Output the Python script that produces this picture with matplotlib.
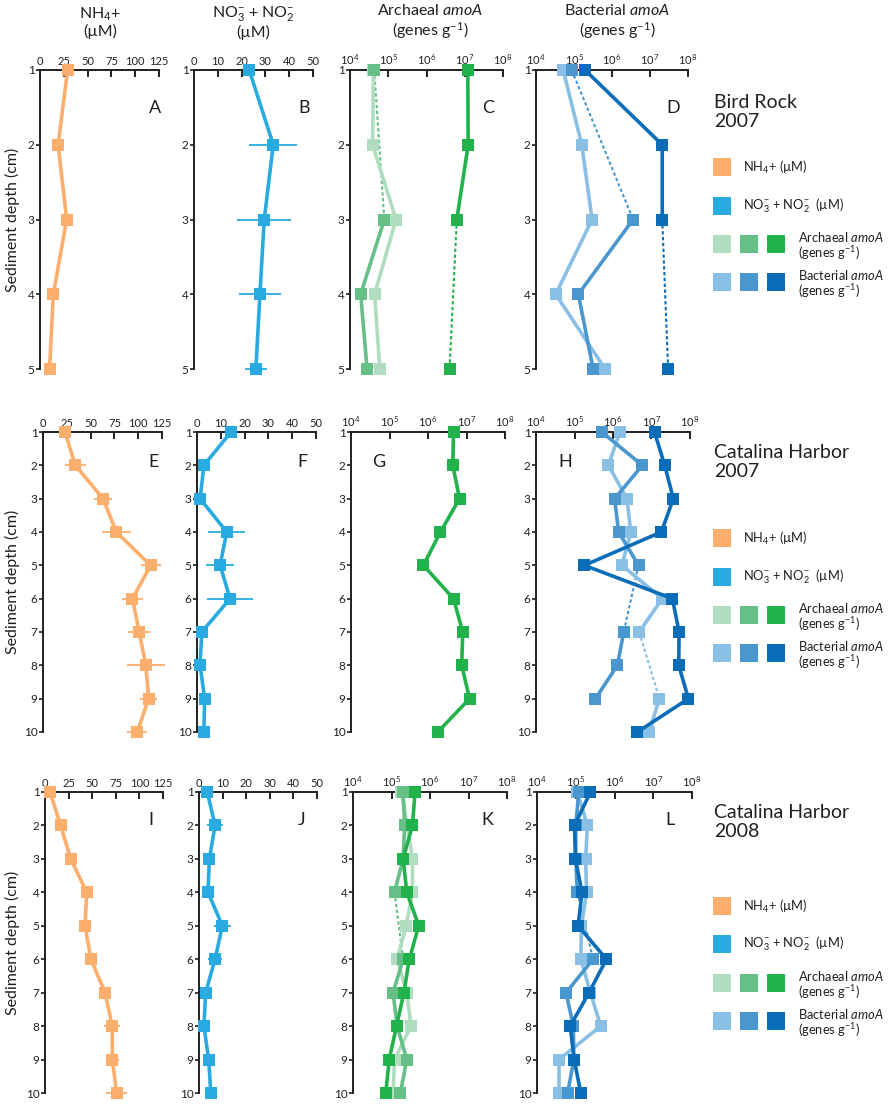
import numpy as np
import matplotlib
matplotlib.use('Agg')
import matplotlib.pyplot as plt
from matplotlib.patches import Rectangle
from matplotlib.ticker import NullLocator

plt.rcParams['font.family'] = ['Lato', 'DejaVu Sans']
plt.rcParams['mathtext.fontset'] = 'custom'
plt.rcParams['mathtext.rm'] = 'Lato'
plt.rcParams['mathtext.it'] = 'Lato:italic'
plt.rcParams['mathtext.bf'] = 'Lato:bold'
plt.rcParams['text.color'] = '#231F20'
plt.rcParams['xtick.color'] = '#231F20'
plt.rcParams['ytick.color'] = '#231F20'

nan = np.nan
depth5 = np.arange(1, 6)
depth10 = np.arange(1, 11)

# Bird Rock 2007
br_nh4 = [29, 19, 28, 14, 10]
br_nh4_err = [15, 0, 6, 0, 0]
br_nox = [23.2, 33.3, 29.5, 27.7, 26.0]
br_nox_err = [3, 10, 11.4, 8.7, 4.5]
br_arch_light = [4.1e4, 3.9e4, 1.6e5, 4.4e4, 6.0e4]
br_arch_mid = [4.3e4, nan, 7.9e4, 1.9e4, 2.8e4]
br_arch_dark = [1.2e7, 1.23e7, 6.2e6, nan, 4.0e6]
br_bact_light = [5.2e4, 1.6e5, 3.0e5, 3.3e4, 6.6e5]
br_bact_mid = [8.7e4, nan, 3.6e6, 1.3e5, 3.2e5]
br_bact_dark = [1.95e5, 2.1e7, 2.1e7, nan, 3.0e7]

# Catalina Harbor 2007
ch7_nh4 = [23, 34, 63, 77, 113, 94, 101, 108, 111, 99]
ch7_nh4_err = [3, 11, 9, 15, 10.5, 11, 11.7, 20, 9, 10.5]
ch7_nox = [14.3, 2.9, 1.3, 12.5, 9.7, 13.9, 2.0, 1.3, 3.2, 2.9]
ch7_nox_err = [10.4, 0, 0, 7.7, 5.8, 9.8, 0, 0, 0, 0]
ch7_arch_dark = [4.6e6, 4.4e6, 6.6e6, 2.1e6, 7.6e5, 4.6e6, 8.0e6, 7.5e6, 1.2e7, 1.8e6]
ch7_bact_light = [1.5e6, 7.6e5, 2.3e6, 2.9e6, 1.7e6, 1.9e7, 4.8e6, nan, 1.6e7, 8.7e6]
ch7_bact_mid = [5.1e5, 5.8e6, 1.1e6, 1.4e6, 4.6e6, nan, 1.9e6, 1.3e6, 3.5e5, nan]
ch7_bact_dark = [1.2e7, 2.2e7, 3.7e7, 1.8e7, 1.8e5, 3.5e7, 5.2e7, 5.1e7, 9.1e7, 4.3e6]

# Catalina Harbor 2008
ch8_nh4 = [5.3, 16.6, 27.2, 44.2, 42.4, 48.7, 63.6, 71.3, 71.3, 75.9]
ch8_nh4_err = [0, 0, 6, 0, 0, 0, 0, 8.3, 7, 11.3]
ch8_nox = [3.5, 6.8, 4.4, 3.8, 9.9, 6.8, 2.8, 2.1, 4.1, 5.0]
ch8_nox_err = [0, 3.4, 0, 0, 3.5, 3.0, 0, 0, 0, 2.5]
ch8_arch_light = [1.8e5, 2.6e5, 3.5e5, 3.5e5, 2.4e5, 1.4e5, 2.5e5, 3.2e5, 1.2e5, 1.1e5]
ch8_arch_mid = [2.0e5, 2.2e5, 2.0e5, 1.2e5, nan, 2.0e5, 1.1e5, 1.4e5, 2.5e5, 1.7e5]
ch8_arch_dark = [4.1e5, 3.5e5, 2.0e5, 2.5e5, 5.1e5, 2.9e5, 2.1e5, 1.35e5, 8.7e4, 7.1e4]
ch8_bact_light = [1.1e5, 2.0e5, 1.8e5, 1.9e5, 1.4e5, 1.35e5, 2.4e5, 4.4e5, 3.7e4, 3.7e4]
ch8_bact_mid = [1.2e5, 1.0e5, 1.0e5, 1.1e5, nan, 2.8e5, 5.6e4, 8.7e4, 8.9e4, 6.2e4]
ch8_bact_dark = [2.4e5, 9.3e4, 9.8e4, 1.45e5, 1.15e5, 6.2e5, 2.2e5, 7.2e4, 9.1e4, 1.35e5]

nh4_ticks = [0, 25, 50, 75, 100, 125]
nox_ticks = [0, 10, 20, 30, 40, 50]
gene_ticks = [1e4, 1e5, 1e6, 1e7, 1e8]

sites = ['Bird Rock\n2007', 'Catalina Harbor\n2007', 'Catalina Harbor\n2008']
letters = ['ABCD', 'EFGH', 'IJKL']

c_nh4 = '#FCAE6C'
c_nox = '#29ABE2'
c_arch = ['#B0DDC0', '#66BF86', '#22B24C']
c_bact = ['#89BFE5', '#4A96CF', '#0B6DB7']

W, H = 892, 1108
fig = plt.figure(figsize=(W / 100, H / 100), dpi=100)


def fx(px):
    return px / W


def fy(py):
    return 1 - py / H


def make_ax(left, top, width, bottom):
    return fig.add_axes([fx(left), fy(bottom), width / W, (bottom - top) / H])


def style(ax, depth, xticks, log=False):
    for s in ['right', 'bottom']:
        ax.spines[s].set_visible(False)
    for s in ['top', 'left']:
        ax.spines[s].set_linewidth(1.4)
        ax.spines[s].set_color('#231F20')
    if log:
        ax.set_xscale('log')
    ax.set_xlim(xticks[0], xticks[-1])
    ax.set_xticks(xticks)
    if log:
        ax.xaxis.set_minor_locator(NullLocator())
    ax.set_ylim(depth[-1], depth[0])
    ax.set_yticks(depth)
    ax.xaxis.tick_top()
    ax.tick_params(axis='x', direction='in', length=5, width=1.4, labelsize=8, pad=2)
    ax.tick_params(axis='y', direction='out', length=3, width=1.2, labelsize=8.5, pad=1)
    ax.patch.set_alpha(0)


def profile(ax, depth, vals, color, err=None):
    vals = np.asarray(vals, dtype=float)
    ax.plot(vals, depth, '-s', color=color, lw=2.6, ms=8, mew=0, clip_on=False, zorder=3)
    ok = np.flatnonzero(~np.isnan(vals))
    for i, j in zip(ok[:-1], ok[1:]):
        if j - i > 1:
            ax.plot([vals[i], vals[j]], [depth[i], depth[j]], color=color, lw=1.5,
                    ls=(0, (1.6, 1.2)), clip_on=False, zorder=2)
    if err is not None:
        eb = ax.errorbar(vals, depth, xerr=err, fmt='none', ecolor=color,
                         elinewidth=1.3, capsize=0, zorder=2)
        for c in eb[2]:
            c.set_clip_on(False)


def letter(ax, txt, x, y):
    ax.text(x, y, txt, transform=ax.transAxes, fontsize=13, ha='center', va='center')


# row layout: top px, bottom px, axes lefts, widths
rows = [
    dict(top=70, bottom=369, lefts=[40, 194, 350, 536], widths=[119, 119, 153, 152], depth=depth5),
    dict(top=432, bottom=732, lefts=[43, 197, 351, 536], widths=[119, 119, 154, 154], depth=depth10),
    dict(top=792, bottom=1093, lefts=[45, 199, 353, 537], widths=[118, 118, 154, 155], depth=depth10),
]
letter_pos = [
    [(0.966, 0.873), (0.924, 0.873), (0.90, 0.873), (0.90, 0.873)],
    [(0.925, 0.90), (0.89, 0.90), (0.18, 0.90), (0.19, 0.90)],
    [(0.90, 0.907), (0.87, 0.907), (0.87, 0.907), (0.86, 0.907)],
]

data = [
    (br_nh4, br_nh4_err, br_nox, br_nox_err,
     [br_arch_light, br_arch_mid, br_arch_dark], [br_bact_light, br_bact_mid, br_bact_dark]),
    (ch7_nh4, ch7_nh4_err, ch7_nox, ch7_nox_err,
     [None, None, ch7_arch_dark], [ch7_bact_light, ch7_bact_mid, ch7_bact_dark]),
    (ch8_nh4, ch8_nh4_err, ch8_nox, ch8_nox_err,
     [ch8_arch_light, ch8_arch_mid, ch8_arch_dark], [ch8_bact_light, ch8_bact_mid, ch8_bact_dark]),
]

for r, (row, d) in enumerate(zip(rows, data)):
    depth = row['depth']
    axs = [make_ax(l, row['top'], w, row['bottom']) for l, w in zip(row['lefts'], row['widths'])]
    nh4, nh4_err, nox, nox_err, arch, bact = d

    style(axs[0], depth, nh4_ticks)
    profile(axs[0], depth, nh4, c_nh4, nh4_err)

    style(axs[1], depth, nox_ticks)
    profile(axs[1], depth, nox, c_nox, nox_err)

    style(axs[2], depth, gene_ticks, log=True)
    for vals, col in zip(arch, c_arch):
        if vals is not None:
            profile(axs[2], depth, vals, col)

    style(axs[3], depth, gene_ticks, log=True)
    for vals, col in zip(bact, c_bact):
        profile(axs[3], depth, vals, col)

    for ax, t, (lx, ly) in zip(axs, letters[r], letter_pos[r]):
        letter(ax, t, lx, ly)

    fig.text(fx(12), fy((row['top'] + row['bottom']) / 2), 'Sediment depth (cm)',
             rotation=90, ha='center', va='center', fontsize=11.5)

# column headers
hdr = [(100, 'NH$_4$+\n(µM)'),
       (253, 'NO$_3^{-}$ + NO$_2^{-}$\n(µM)'),
       (430, 'Archaeal $\\mathit{amoA}$\n(genes g$^{-1}$)'),
       (617, 'Bacterial $\\mathit{amoA}$\n(genes g$^{-1}$)')]
for x, t in hdr:
    fig.text(fx(x), fy(22), t, ha='center', va='center', fontsize=11.5, linespacing=1.1)

# site labels and legends on the right
site_y = [112, 462, 822]
leg_y = [[167, 205.5, 244, 282], [538, 577, 615, 653], [906, 944, 983, 1021]]
sq = 18
lfs = 9.3
for s, sy, ly in zip(sites, site_y, leg_y):
    fig.text(fx(714), fy(sy), s, ha='left', va='center', fontsize=14, linespacing=1.12)
    fig.patches.append(Rectangle((fx(713), fy(ly[0] + sq / 2)), sq / W, sq / H,
                                 transform=fig.transFigure, color=c_nh4, lw=0))
    fig.text(fx(743), fy(ly[0]), 'NH$_4$+ (µM)', ha='left', va='center', fontsize=lfs)
    fig.patches.append(Rectangle((fx(713), fy(ly[1] + sq / 2)), sq / W, sq / H,
                                 transform=fig.transFigure, color=c_nox, lw=0))
    fig.text(fx(743), fy(ly[1]), 'NO$_3^{-}$ + NO$_2^{-}$  (µM)', ha='left', va='center',
             fontsize=lfs)
    for k in range(3):
        fig.patches.append(Rectangle((fx(713 + 27 * k), fy(ly[2] + sq / 2)), sq / W, sq / H,
                                     transform=fig.transFigure, color=c_arch[k], lw=0))
        fig.patches.append(Rectangle((fx(713 + 27 * k), fy(ly[3] + sq / 2)), sq / W, sq / H,
                                     transform=fig.transFigure, color=c_bact[k], lw=0))
    fig.text(fx(798), fy(ly[2] + 2), 'Archaeal $\\mathit{amoA}$\n(genes g$^{-1}$)',
             ha='left', va='center', fontsize=lfs, linespacing=1.05)
    fig.text(fx(798), fy(ly[3] + 2), 'Bacterial $\\mathit{amoA}$\n(genes g$^{-1}$)',
             ha='left', va='center', fontsize=lfs, linespacing=1.05)

fig.savefig('out.png', dpi=100)
